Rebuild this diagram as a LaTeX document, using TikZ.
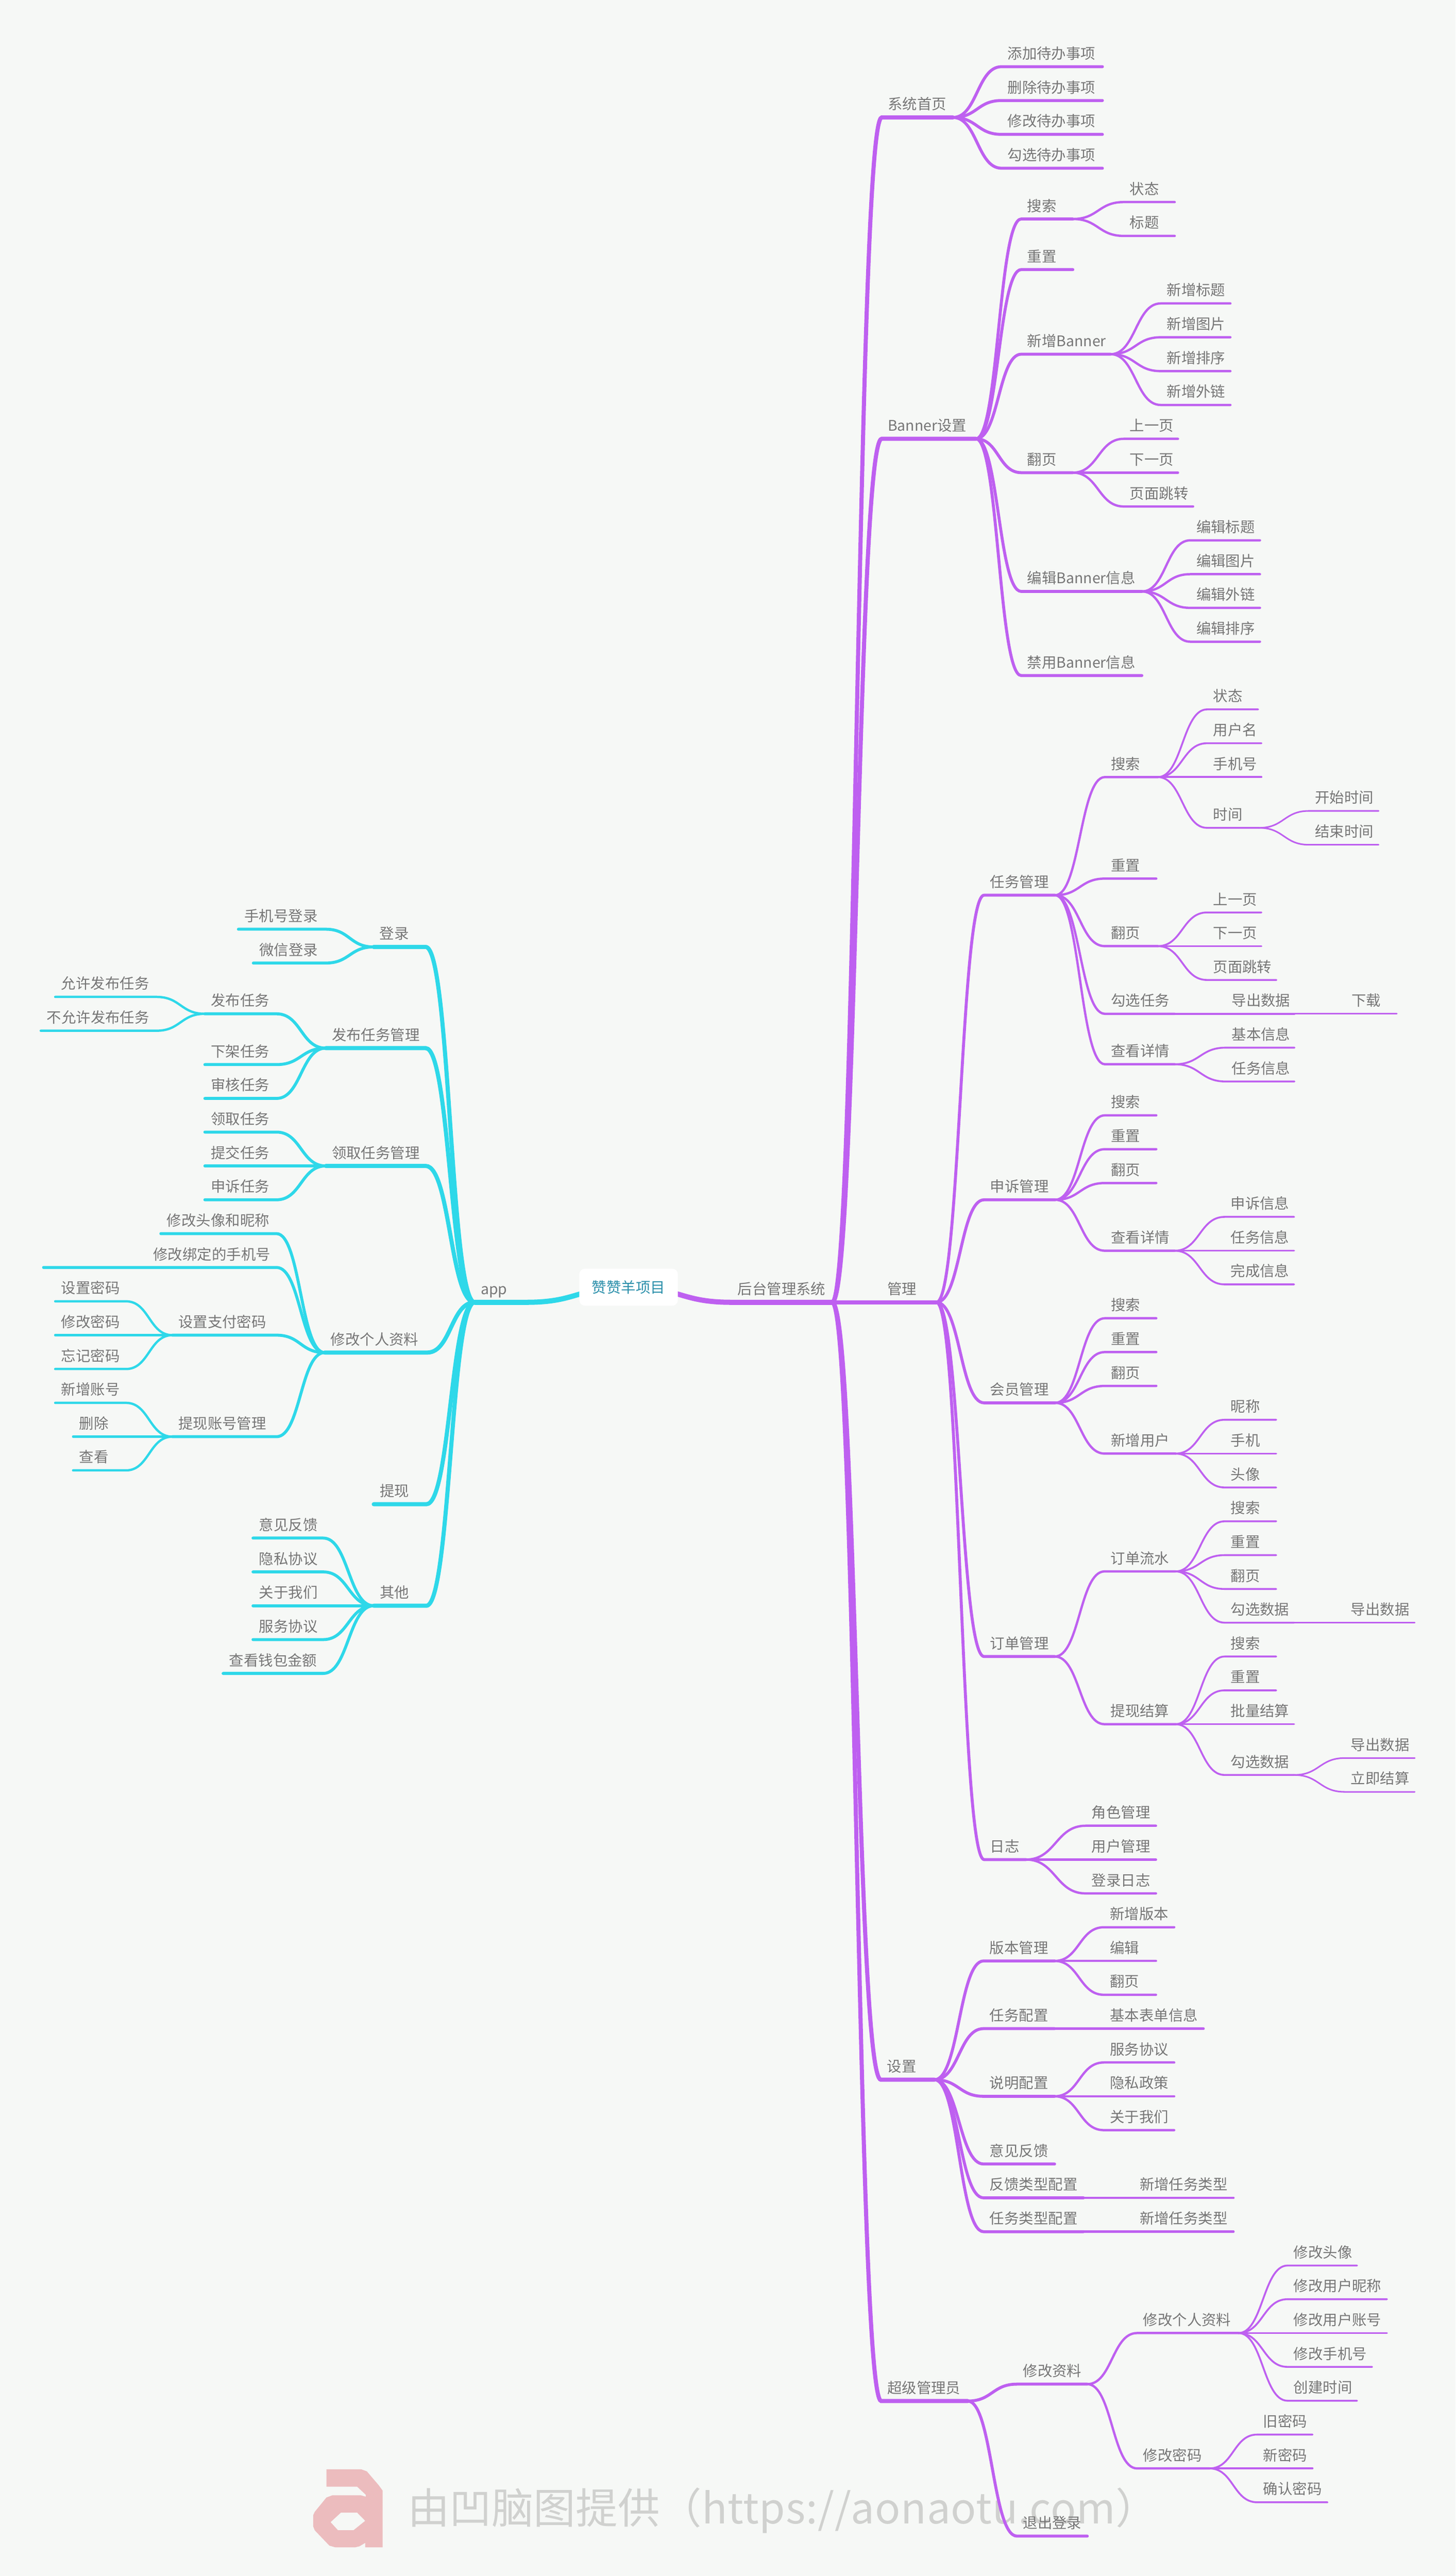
\documentclass[tikz,border=0pt]{standalone}
\usepackage{fontspec}
\setmainfont{Noto Sans CJK SC}
\usetikzlibrary{calc,backgrounds}
\definecolor{pagecol}{HTML}{F6F8F6}
\definecolor{txtcol}{HTML}{767676}
\definecolor{rootcol}{HTML}{2A8FAA}
\definecolor{purplecol}{HTML}{BE60F0}
\definecolor{cyancol}{HTML}{2ED8E9}
\definecolor{markcol}{HTML}{D0D1CF}
\definecolor{logocol}{HTML}{ECBCBE}
\tikzset{
  topic/.style={anchor=south west, outer sep=0pt, inner xsep=.147cm, inner ysep=.188cm,
    /utils/exec={\pgfmathsetlengthmacro\topicw{#1*0.03982cm-0.294cm}},
    text width=\topicw, text height=.3cm, text depth=0pt, align=left,
    text=txtcol, font=\fontsize{10.1}{12}\selectfont,
    execute at begin node={\hyphenpenalty=10000}},
  rootnode/.style={fill=white, rounded corners=.14cm, minimum width=2.39cm,
    minimum height=.9cm, outer sep=0pt, text=rootcol, font=\fontsize{10.1}{12}\selectfont},
  curve/.style={to path={let \p1=(\tikztostart),\p2=(\tikztotarget) in
    .. controls ({0.5*\x1+0.5*\x2},\y1) and ({0.5*\x1+0.5*\x2},\y2) .. (\tikztotarget)}},
}
% parent to child, right side and left side
\newcommand{\rlinks}[2]{\foreach \pa/\ch in {#2}
  \draw[purplecol, line width=#1, line cap=round] (\pa.south east) to[curve] (\ch.south west) -- (\ch.south east);}
\newcommand{\llinks}[2]{\foreach \pa/\ch in {#2}
  \draw[cyancol, line width=#1, line cap=round] (\pa.south west) to[curve] (\ch.south east) -- (\ch.south west);}
\begin{document}
\begin{tikzpicture}[x=0.03982cm,y=-0.03982cm]
\useasboundingbox (0,0) rectangle (886,1568);
\node[rootnode] (root) at (382.6,783.5) {赞赞羊项目};
% right side
\node[topic=61.2] (houtai) at (445.3,792.7) {后台管理系统};
\node[topic=43.3] (xitong) at (536.7,71.5) {系统首页};
\node[topic=57.3] (banner) at (536.7,267.1) {Banner设置};
\node[topic=33.5] (guanli) at (536.5,792.7) {管理};
\node[topic=32.6] (shezhi) at (536.2,1265.9) {设置};
\node[topic=52.6] (chaoji) at (536.4,1461.5) {超级管理员};
% 系统首页
\node[topic=61.4] (xtAdd) at (609.6,40.6) {添加待办事项};
\node[topic=61.4] (xtDel) at (609.6,61.2) {删除待办事项};
\node[topic=61.4] (xtMod) at (609.6,81.8) {修改待办事项};
\node[topic=61.4] (xtChk) at (609.6,102.4) {勾选待办事项};
% Banner
\node[topic=31.4] (bnSearch) at (621.6,133.3) {搜索};
\node[topic=31.4] (bnReset) at (621.6,164.1) {重置};
\node[topic=54.4] (bnAdd) at (621.6,215.6) {新增Banner};
\node[topic=31.4] (bnPage) at (621.6,287.7) {翻页};
\node[topic=73.4] (bnEdit) at (621.6,360) {编辑Banner信息};
\node[topic=73.4] (bnBan) at (621.6,411.2) {禁用Banner信息};
\node[topic=31] (bsState) at (684,123) {状态};
\node[topic=31] (bsTitle) at (684,143.6) {标题};
\node[topic=42.4] (baTitle) at (706.5,184.7) {新增标题};
\node[topic=42.4] (baPic) at (706.5,205.3) {新增图片};
\node[topic=42.4] (baSort) at (706.5,225.9) {新增排序};
\node[topic=42.4] (baLink) at (706.5,246.5) {新增外链};
\node[topic=33] (bpPrev) at (684,267.1) {上一页};
\node[topic=33] (bpNext) at (684,287.7) {下一页};
\node[topic=42.2] (bpJump) at (684,308.3) {页面跳转};
\node[topic=42.4] (beTitle) at (724.5,328.9) {编辑标题};
\node[topic=42.4] (bePic) at (724.5,349.5) {编辑图片};
\node[topic=42.4] (beLink) at (724.5,370) {编辑外链};
\node[topic=42.4] (beSort) at (724.5,390.6) {编辑排序};
% 管理
\node[topic=43.2] (task) at (599,544.9) {任务管理};
\node[topic=43.2] (appeal) at (599,730.3) {申诉管理};
\node[topic=43.2] (member) at (599,853.9) {会员管理};
\node[topic=43] (order) at (599,1008.3) {订单管理};
\node[topic=25.5] (logs) at (599,1131.9) {日志};
\node[topic=32.2] (tkSearch) at (672.5,473) {搜索};
\node[topic=31.3] (tkReset) at (672.5,534.8) {重置};
\node[topic=32.2] (tkPage) at (672.5,575.9) {翻页};
\node[topic=42.5] (tkCheck) at (672.5,617.1) {勾选任务};
\node[topic=42.5] (tkView) at (672.5,647.8) {查看详情};
\node[topic=31.1] (tsState) at (734.7,431.8) {状态};
\node[topic=33.1] (tsUser) at (734.7,452.4) {用户名};
\node[topic=33.1] (tsPhone) at (734.7,473) {手机号};
\node[topic=31.7] (tsTime) at (734.7,503.9) {时间};
\node[topic=42.4] (ttStart) at (796.7,493.6) {开始时间};
\node[topic=42.4] (ttEnd) at (796.7,514.2) {结束时间};
\node[topic=33.1] (tpPrev) at (734.7,555.4) {上一页};
\node[topic=33.1] (tpNext) at (734.7,575.9) {下一页};
\node[topic=42.2] (tpJump) at (734.7,596.5) {页面跳转};
\node[topic=41.9] (tcExport) at (746,617.1) {导出数据};
\node[topic=31.2] (tcDown) at (819,617.1) {下载};
\node[topic=41.9] (tvBase) at (746,637.7) {基本信息};
\node[topic=41.9] (tvTask) at (746,658.3) {任务信息};
\node[topic=31.3] (apSearch) at (672.5,678.9) {搜索};
\node[topic=31.3] (apReset) at (672.5,699.5) {重置};
\node[topic=31.3] (apPage) at (672.5,720.1) {翻页};
\node[topic=42.5] (apView) at (672.5,761.3) {查看详情};
\node[topic=42.3] (avAppeal) at (745.4,740.7) {申诉信息};
\node[topic=42.3] (avTask) at (745.4,761.3) {任务信息};
\node[topic=42.3] (avDone) at (745.4,781.8) {完成信息};
\node[topic=31.3] (mbSearch) at (672.5,802.4) {搜索};
\node[topic=31.3] (mbReset) at (672.5,823) {重置};
\node[topic=31.3] (mbPage) at (672.5,843.6) {翻页};
\node[topic=43] (mbAdd) at (672.5,884.8) {新增用户};
\node[topic=31.4] (maNick) at (745.4,864.2) {昵称};
\node[topic=31.4] (maPhone) at (745.4,884.8) {手机};
\node[topic=31.4] (maFace) at (745.4,905.4) {头像};
\node[topic=43.2] (odFlow) at (672.3,956.5) {订单流水};
\node[topic=43.2] (odCash) at (672.3,1049.5) {提现结算};
\node[topic=31.4] (ofSearch) at (745.4,926) {搜索};
\node[topic=31.4] (ofReset) at (745.4,946.6) {重置};
\node[topic=31.4] (ofPage) at (745.4,967.2) {翻页};
\node[topic=42.3] (ofCheck) at (745.4,987.7) {勾选数据};
\node[topic=42.6] (ofExport) at (818.5,987.7) {导出数据};
\node[topic=31.4] (ocSearch) at (745.4,1008.3) {搜索};
\node[topic=31.4] (ocReset) at (745.4,1028.9) {重置};
\node[topic=42.3] (ocBatch) at (745.4,1049.5) {批量结算};
\node[topic=42.3] (ocCheck) at (745.4,1080.4) {勾选数据};
\node[topic=42.6] (ocExport) at (818.5,1070.1) {导出数据};
\node[topic=42.6] (ocNow) at (818.5,1090.7) {立即结算};
\node[topic=42.8] (lgRole) at (660.8,1111.3) {角色管理};
\node[topic=42.8] (lgUser) at (660.8,1131.9) {用户管理};
\node[topic=42.8] (lgLogin) at (660.8,1152.5) {登录日志};
% 设置
\node[topic=43.2] (version) at (598.7,1193.6) {版本管理};
\node[topic=43.2] (taskCfg) at (598.7,1234.8) {任务配置};
\node[topic=43.2] (noteCfg) at (598.7,1276) {说明配置};
\node[topic=43.2] (feedback) at (598.7,1317.2) {意见反馈};
\node[topic=60.8] (fbType) at (598.7,1337.8) {反馈类型配置};
\node[topic=60.8] (tkType) at (598.7,1358.4) {任务类型配置};
\node[topic=42.8] (vsAdd) at (671.9,1173.1) {新增版本};
\node[topic=31.7] (vsEdit) at (671.9,1193.6) {编辑};
\node[topic=31.7] (vsPage) at (671.9,1214.2) {翻页};
\node[topic=60.7] (tcForm) at (671.9,1234.8) {基本表单信息};
\node[topic=42.8] (ncServe) at (671.9,1255.4) {服务协议};
\node[topic=42.8] (ncPriv) at (671.9,1276) {隐私政策};
\node[topic=42.8] (ncAbout) at (671.9,1296.6) {关于我们};
\node[topic=60.8] (fbAdd) at (690,1337.8) {新增任务类型};
\node[topic=60.8] (ttAdd) at (690,1358.4) {新增任务类型};
% 超级管理员
\node[topic=42.8] (cjEdit) at (619,1451.2) {修改资料};
\node[topic=42.8] (cjLogout) at (619,1543.7) {退出登录};
\node[topic=61.7] (cjInfo) at (692.1,1420.1) {修改个人资料};
\node[topic=44.1] (cjPwd) at (692.1,1502.5) {修改密码};
\node[topic=42.3] (ciFace) at (783.7,1379) {修改头像};
\node[topic=60.5] (ciNick) at (783.7,1399.5) {修改用户昵称};
\node[topic=60.5] (ciAcct) at (783.7,1420.1) {修改用户账号};
\node[topic=51.5] (ciPhone) at (783.7,1440.7) {修改手机号};
\node[topic=42.3] (ciTime) at (783.7,1461.3) {创建时间};
\node[topic=33.7] (cpOld) at (765.2,1481.9) {旧密码};
\node[topic=33.7] (cpNew) at (765.2,1502.5) {新密码};
\node[topic=42.8] (cpConf) at (765.2,1523.1) {确认密码};
% left side
\node[topic=31.4] (app) at (289,792.7) {app};
\node[topic=31.7] (login) at (227.4,576.4) {登录};
\node[topic=60.8] (publish) at (198.3,638) {发布任务管理};
\node[topic=60.8] (receive) at (198.3,709.7) {领取任务管理};
\node[topic=62.4] (profile) at (197.6,823.3) {修改个人资料};
\node[topic=32] (cash) at (227.5,915.6) {提现};
\node[topic=32] (other) at (227.5,977.4) {其他};
\node[topic=53.2] (lgPhone) at (145.1,565.6) {手机号登录};
\node[topic=44.1] (lgWechat) at (154.2,586.2) {微信登录};
\node[topic=43.6] (pbTask) at (124.7,617.1) {发布任务};
\node[topic=43.6] (pbDown) at (124.7,648) {下架任务};
\node[topic=43.6] (pbAudit) at (124.7,668.6) {审核任务};
\node[topic=61.6] (pbAllow) at (33.6,606.8) {允许发布任务};
\node[topic=70.4] (pbDeny) at (24.8,627.4) {不允许发布任务};
\node[topic=43.6] (rcGet) at (124.7,689.1) {领取任务};
\node[topic=43.6] (rcSubmit) at (124.7,709.7) {提交任务};
\node[topic=43.6] (rcAppeal) at (124.7,730.3) {申诉任务};
\node[topic=70.4] (pfFace) at (97.9,750.9) {修改头像和昵称};
\node[topic=141.8, align=right] (pfPhone) at (26.5,771.5) {修改绑定的手机号};
\node[topic=63.4] (pfPay) at (104.9,812.7) {设置支付密码};
\node[topic=63.4] (pfAcct) at (104.9,874.5) {提现账号管理};
\node[topic=43.1] (ppSet) at (33.6,792.1) {设置密码};
\node[topic=43.1] (ppMod) at (33.6,812.7) {修改密码};
\node[topic=43.1] (ppLost) at (33.6,833.3) {忘记密码};
\node[topic=43.1] (paAdd) at (33.6,853.9) {新增账号};
\node[topic=32.2] (paDel) at (44.5,874.5) {删除};
\node[topic=32.2] (paView) at (44.5,895) {查看};
\node[topic=42.7] (otIdea) at (154,936.2) {意见反馈};
\node[topic=42.7] (otPriv) at (154,956.8) {隐私协议};
\node[topic=42.7] (otAbout) at (154,977.4) {关于我们};
\node[topic=42.7] (otServe) at (154,998) {服务协议};
\node[topic=60.9] (otWallet) at (135.8,1018.6) {查看钱包金额};
\begin{pgfonlayer}{background}
\fill[pagecol] (0,0) rectangle (886,1568);
% watermark
\fill[logocol, even odd rule] (198.7,1503) -- (219.8,1503) -- (223.3,1504.3) -- (230.4,1512.6) -- (232.9,1516)
  -- (232.9,1550.5) -- (222.3,1550.5) -- (222.3,1547.8) -- (218.8,1549.9) -- (216.3,1550.5) -- (204,1550.5)
  -- (200.5,1549.5) -- (191.6,1540.2) -- (190.6,1537.7) -- (190.6,1531) -- (191.6,1528.9) -- (198.7,1520.2)
  -- (202.2,1518.9) -- (219.8,1518.9) -- (222.6,1519.7) -- (222.6,1518.5) -- (217.4,1513.6) -- (198.7,1513.6) -- cycle
  (207.5,1529.4) -- (217.4,1529.4) -- (222.3,1534.4) -- (215.2,1540.1) -- (205.7,1540.1) -- (201.2,1535.2) -- cycle;
\node[anchor=west, inner sep=0pt, text=markcol, font=\fontsize{29}{34}\selectfont] (mark) at (247.9,1528) {由凹脑图提供（{\addfontfeature{LetterSpace=1}https://aonaotu.com}）};
% connectors
\draw[purplecol, line width=.125cm, line cap=round] (root.center) to[curve] (houtai.south west) -- (houtai.south east);
\draw[cyancol, line width=.125cm, line cap=round] (root.center) to[curve] (app.south east) -- (app.south west);
\rlinks{.1cm}{houtai/xitong,houtai/banner,houtai/guanli,houtai/shezhi,houtai/chaoji}
\rlinks{.072cm}{xitong/xtAdd,xitong/xtDel,xitong/xtMod,xitong/xtChk,
  banner/bnSearch,banner/bnReset,banner/bnAdd,banner/bnPage,banner/bnEdit,banner/bnBan,
  guanli/task,guanli/appeal,guanli/member,guanli/order,guanli/logs,
  shezhi/version,shezhi/taskCfg,shezhi/noteCfg,shezhi/feedback,shezhi/fbType,shezhi/tkType,
  chaoji/cjEdit,chaoji/cjLogout}
\rlinks{.056cm}{bnSearch/bsState,bnSearch/bsTitle,bnAdd/baTitle,bnAdd/baPic,bnAdd/baSort,bnAdd/baLink,
  bnPage/bpPrev,bnPage/bpNext,bnPage/bpJump,bnEdit/beTitle,bnEdit/bePic,bnEdit/beLink,bnEdit/beSort,
  task/tkSearch,task/tkReset,task/tkPage,task/tkCheck,task/tkView,
  appeal/apSearch,appeal/apReset,appeal/apPage,appeal/apView,
  member/mbSearch,member/mbReset,member/mbPage,member/mbAdd,
  order/odFlow,order/odCash,logs/lgRole,logs/lgUser,logs/lgLogin,
  version/vsAdd,version/vsEdit,version/vsPage,taskCfg/tcForm,
  noteCfg/ncServe,noteCfg/ncPriv,noteCfg/ncAbout,fbType/fbAdd,tkType/ttAdd,
  cjEdit/cjInfo,cjEdit/cjPwd}
\rlinks{.045cm}{tkSearch/tsState,tkSearch/tsUser,tkSearch/tsPhone,tkSearch/tsTime,
  tkPage/tpPrev,tkPage/tpNext,tkPage/tpJump,tkCheck/tcExport,tkView/tvBase,tkView/tvTask,
  apView/avAppeal,apView/avTask,apView/avDone,mbAdd/maNick,mbAdd/maPhone,mbAdd/maFace,
  odFlow/ofSearch,odFlow/ofReset,odFlow/ofPage,odFlow/ofCheck,
  odCash/ocSearch,odCash/ocReset,odCash/ocBatch,odCash/ocCheck,
  cjInfo/ciFace,cjInfo/ciNick,cjInfo/ciAcct,cjInfo/ciPhone,cjInfo/ciTime,
  cjPwd/cpOld,cjPwd/cpNew,cjPwd/cpConf}
\rlinks{.038cm}{tsTime/ttStart,tsTime/ttEnd,tcExport/tcDown,ofCheck/ofExport,ocCheck/ocExport,ocCheck/ocNow}
\llinks{.1cm}{app/login,app/publish,app/receive,app/profile,app/cash,app/other}
\llinks{.072cm}{login/lgPhone,login/lgWechat,publish/pbTask,publish/pbDown,publish/pbAudit,
  receive/rcGet,receive/rcSubmit,receive/rcAppeal,profile/pfFace,profile/pfPhone,profile/pfPay,profile/pfAcct,
  other/otIdea,other/otPriv,other/otAbout,other/otServe,other/otWallet}
\llinks{.056cm}{pbTask/pbAllow,pbTask/pbDeny,pfPay/ppSet,pfPay/ppMod,pfPay/ppLost,
  pfAcct/paAdd,pfAcct/paDel,pfAcct/paView}
\end{pgfonlayer}
\end{tikzpicture}
\end{document}
